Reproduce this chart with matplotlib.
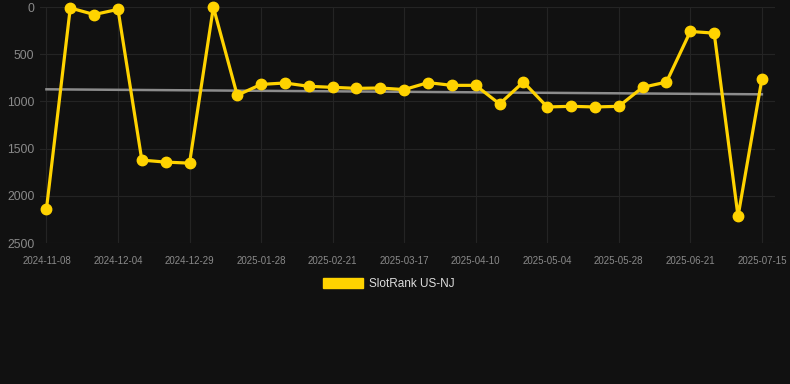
import matplotlib.pyplot as plt
from matplotlib.patches import Patch

# SlotRank values (lower is better), one point roughly every 8 days
ranks = [2140, 10, 80, 25, 1622, 1643, 1654, 2, 935, 820, 805, 840, 851, 862, 858,
         875, 801, 830, 830, 1027, 795, 1059, 1052, 1059, 1052, 851, 795, 259, 277,
         2218, 763]
# labels shown on every third point
tick_labels = ['2024-11-08', '2024-12-04', '2024-12-29', '2025-01-28', '2025-02-21',
               '2025-03-17', '2025-04-10', '2025-05-04', '2025-05-28', '2025-06-21',
               '2025-07-15']
trend = [872, 925]
y_ticks = [0, 500, 1000, 1500, 2000, 2500]

plt.rcParams['font.family'] = ['Liberation Sans', 'DejaVu Sans']

bg = '#111111'
fig = plt.figure(figsize=(7.9, 3.84), dpi=100, facecolor=bg)
ax = fig.add_axes([40 / 790, 1 - 243 / 384, 735 / 790, 236 / 384], facecolor=bg)

x = list(range(len(ranks)))
ax.plot([x[0], x[-1]], trend, color='#8c8c8c', lw=1.8, zorder=2)
ax.plot(x, ranks, color='#FFD300', lw=2.3, marker='o', markersize=7.5,
        clip_on=False, zorder=3)

ax.set_ylim(2500, 0)
ax.set_xlim(-0.27, 30.55)
ax.set_yticks(y_ticks)
ax.set_xticks(x[::3])
ax.set_xticklabels(tick_labels)

ax.grid(True, color='#242424', lw=0.8)
ax.set_axisbelow(True)
for s in ax.spines.values():
    s.set_visible(False)
ax.tick_params(axis='y', length=0, pad=4, labelsize=8.7, labelcolor='#8a8a8a')
ax.tick_params(axis='x', length=0, pad=9, labelsize=7, labelcolor='#8a8a8a')

fig.legend(handles=[Patch(facecolor='#FFD300', edgecolor='#FFD300')],
           labels=['SlotRank US-NJ'], loc='center', bbox_to_anchor=(0.492, 0.26),
           frameon=False, fontsize=8.5, labelcolor='#dddddd',
           handlelength=3.4, handleheight=0.95, handletextpad=0.5)

fig.savefig('out.png', facecolor=bg)
